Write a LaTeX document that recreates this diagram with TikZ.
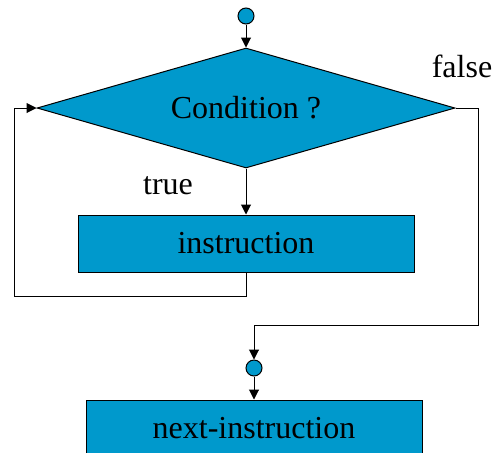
\documentclass[tikz,border=0pt]{standalone}
\usepackage{fontspec}
\setmainfont{Liberation Serif}
\usetikzlibrary{arrows.meta,shapes.geometric}
\definecolor{flowblue}{RGB}{0,153,204}

\begin{document}
\begin{tikzpicture}[
  x=0.5pt, y=0.5pt,
  box/.style={draw, fill=flowblue, minimum width=168pt, minimum height=28.5pt, inner sep=0pt, font=\fontsize{16}{19}\selectfont},
  cond/.style={draw, diamond, fill=flowblue, aspect=3.5, minimum width=209pt, minimum height=60pt, inner sep=0pt, font=\fontsize{16}{19}\selectfont},
  dot/.style={draw, circle, fill=flowblue, minimum size=8pt, inner sep=0pt},
  lbl/.style={font=\fontsize{16}{19}\selectfont},
  arr/.style={-{Triangle[length=5pt,width=5pt]}, line width=0.5pt},
  line width=0.5pt
]
\useasboundingbox (0,0) rectangle (496,452);
\clip (0,0) rectangle (496,452);

\node[dot] (start) at (246,436) {};
\node[cond] (test) at (246,344) {Condition ?};
\node[box] (body) at (246,208.5) {instruction};
\node[dot] (join) at (254,84) {};
\node[box] (next) at (254,23.5) {next-instruction};

\node[lbl] (falselbl) at (462,386) {false};
\node[lbl] (truelbl) at (168,266) {true};

\coordinate (loopL) at (14,156);
\coordinate (exitR) at (478,127);

\draw[arr] (start) -- (test.north);
\draw[arr] (test.south) -- (body.north);
\draw[arr] (body.south) |- (loopL) |- (test.west);
\draw[arr] (test.east) -| (exitR) -| (join.north);
\draw[arr] (join) -- (next.north);

\end{tikzpicture}
\end{document}
